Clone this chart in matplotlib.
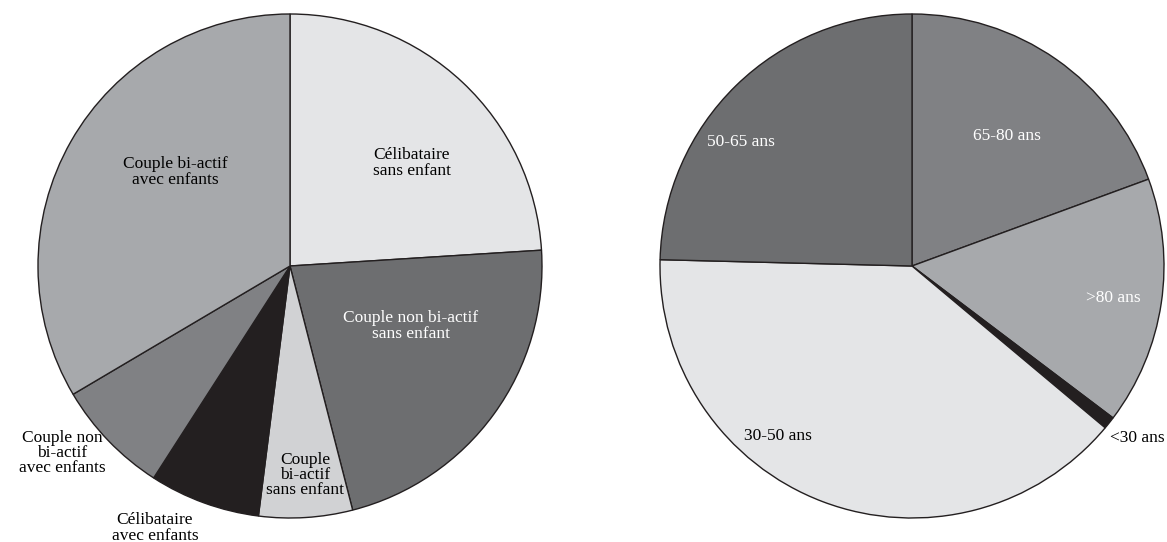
import matplotlib
matplotlib.use('Agg')
import matplotlib.pyplot as plt

# left pie: household type
menage_labels = ['Célibataire\nsans enfant', 'Couple non bi-actif\nsans enfant', 'Couple\nbi-actif\nsans enfant',
                 'Célibataire\navec enfants', 'Couple non\nbi-actif\navec enfants', 'Couple bi-actif\navec enfants']
menage_values = [24.0, 22.0, 6.0, 7.1, 7.4, 33.5]
menage_colors = ['#e4e5e7', '#6d6e70', '#d1d2d4', '#231f20', '#808184', '#a7a9ac']
menage_text = ['black', 'white', 'black', 'black', 'black', 'black']
menage_pos = [(0.484, 0.409), (0.480, -0.238), (0.060, -0.829), (-0.536, -1.04), (-0.905, -0.742), (-0.456, 0.373)]

# right pie: age group
age_labels = ['65-80 ans', '>80 ans', '<30 ans', '30-50 ans', '50-65 ans']
age_values = [19.4, 15.9, 0.8, 39.3, 24.6]
age_colors = ['#808184', '#a7a9ac', '#231f20', '#e4e5e7', '#6d6e70']
age_text = ['white', 'white', 'black', 'black', 'white']
age_pos = [(0.377, 0.516), (0.798, -0.127), (0.893, -0.683), (-0.532, -0.675), (-0.679, 0.492)]

plt.rcParams['font.family'] = ['Liberation Serif', 'DejaVu Serif']

W, H = 1167, 542
fig = plt.figure(figsize=(W / 100, H / 100), dpi=100)
R = 252

def draw_pie(cx, cy, values, colors, labels, text_colors, positions):
    ax = fig.add_axes([(cx - R) / W, (H - cy - R) / H, 2 * R / W, 2 * R / H])
    ax.pie(values, colors=colors, startangle=90, counterclock=False, radius=1,
           wedgeprops=dict(edgecolor='#231f20', linewidth=1.0))
    ax.set_xlim(-1, 1)
    ax.set_ylim(-1, 1)
    ax.set_aspect('equal')
    ax.axis('off')
    for lab, col, (x, y) in zip(labels, text_colors, positions):
        ax.text(x, y, lab, ha='center', va='center', color=col, fontsize=12.5,
                linespacing=0.95, clip_on=False)
    return ax

draw_pie(290, 266, menage_values, menage_colors, menage_labels, menage_text, menage_pos)
draw_pie(912, 266, age_values, age_colors, age_labels, age_text, age_pos)

fig.savefig('out.png', dpi=100)
